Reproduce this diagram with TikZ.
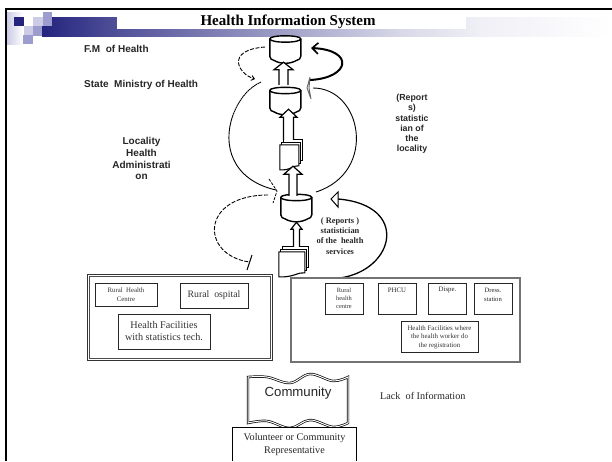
\documentclass[tikz,border=0pt]{standalone}
\usepackage{fontspec}
\setmainfont{Liberation Serif}
\setsansfont{Liberation Sans}
\usetikzlibrary{arrows.meta,positioning,shadings,calc}
\definecolor{hdark}{HTML}{24247F}
\definecolor{hmid}{HTML}{9C9CCE}
\definecolor{hlight}{HTML}{CCCCE6}
\tikzset{
  px/.style={line width=1.4pt,draw=black},
  cylfill/.style={px,fill=white},
  sheet/.style={line width=.9pt,draw=black,fill=white},
  sanslab/.style={font=\sffamily\bfseries\fontsize{10}{11.9}\selectfont,align=center,inner sep=0pt,text=black!85},
  sanssmall/.style={font=\sffamily\bfseries\fontsize{8.8}{10.2}\selectfont,align=center,inner sep=0pt,text=black!85},
  seriflab/.style={font=\bfseries\fontsize{8.4}{10.2}\selectfont,align=center,inner sep=0pt,text=black!85},
  thinbox/.style={draw=black!85,line width=.9pt,fill=white,align=center,inner sep=0pt,text=black!80},
  txt/.style={align=center,inner sep=0pt,text=black!85},
  solidcurve/.style={line width=.9pt,draw=black},
  dashcurve/.style={line width=.9pt,draw=black,dash pattern=on 4pt off 1.6pt},
  blockline/.style={line width=1.2pt,draw=black,fill=white,line join=miter},
}
\newcommand{\cylshape}[3]{% name, centre x, centre y
  \node[minimum width=31pt,minimum height=30pt,inner sep=0pt] (#1) at (#2,#3) {};
  \begin{scope}[shift={(#1.north west)}]
    \draw[cylfill] (0,5.5) .. controls (0,1.5) and (31,1.5) .. (31,5.5)
      -- (31,23) .. controls (31,26) and (29,26) .. (27,27)
      .. controls (20,31) and (11,31) .. (4,27)
      .. controls (2,26) and (0,26) .. (0,23) -- cycle;
    \draw[px] (0,5.5) .. controls (0,10) and (31,10) .. (31,5.5);
  \end{scope}
}
\newcommand{\docstack}[5]{% name, x1, y1, w, h
  \node[minimum width=#4 pt,minimum height=#5 pt,inner sep=0pt] (#1) at ({#2+#4/2},{#3+#5/2}) {};
  \begin{scope}[shift={(#1.north west)}]
    \draw[sheet] (4,-5) -- ({#4+4},-5) -- ({#4+4},{#5-9}) -- (4,{#5-9}) -- cycle;
    \draw[sheet] (2,-2.5) -- ({#4+2},-2.5) -- ({#4+2},{#5-6}) -- (2,{#5-6}) -- cycle;
    \draw[sheet,line width=1.1pt] (0,0) -- (#4,0) -- (#4,{#5-4})
      .. controls ({#4*.75},{#5-5}) and ({#4*.55},{#5+1}) .. (0,{#5}) -- cycle;
  \end{scope}
}
% hollow upward block arrow: from, to, half shaft, half head, head length
\newcommand{\blockarrow}[5]{%
  \draw[blockline] let \p1=#1, \p2=#2 in
    (\x1-#3pt,\y1) -- (\x1-#3pt,\y2-#5pt) -- (\x1-#4pt,\y2-#5pt) -- (\x1,\y2)
    -- (\x1+#4pt,\y2-#5pt) -- (\x1+#3pt,\y2-#5pt) -- (\x1+#3pt,\y1);
}
\begin{document}
\begin{tikzpicture}[x=1pt,y=-1pt]
\useasboundingbox (0,0) rectangle (612,461);
% header decoration
\shade[left color=hdark,right color=hdark!80!white] (42,17) rectangle (117.3,36);
\shade[left color=hdark!80!white,right color=hdark!40!white] (117,17) rectangle (300.3,36);
\shade[left color=hdark!40!white,right color=hdark!18!white] (300,17) rectangle (400.3,36);
\shade[left color=hdark!18!white,right color=hdark!7!white] (400,17) rectangle (480.3,36);
\shade[left color=hdark!7!white,right color=white] (480,17) rectangle (612,36);
\fill[white] (117,17) rectangle (466,29);
\shade[left color=hlight,right color=white] (7,12) rectangle (23,44);
\fill[hmid] (43,12) rectangle (52,26);
\fill[hlight] (33,17) rectangle (43,26);
\fill[hdark] (14,17) rectangle (24,26);
\fill[hlight] (24,26) rectangle (33,35);
\fill[hmid] (33,26) rectangle (42,36);
\fill[hmid] (23,35) rectangle (33,44);
% frame
\draw[line width=2.4pt] (612,9.2) -- (6,9.2) -- (6,461);
\node[txt,font=\bfseries\fontsize{15}{17}\selectfont,text=black] (title) at (288,22) {Health Information System};
% labels
\node[sanslab,anchor=west] (fm) at (84,48.5) {F.M\ \ of Health};
\node[sanslab,anchor=west] (sm) at (84,84.5) {State\ \ Ministry of Health};
\node[sanslab] (loc) at (141.5,158.5) {Locality\\Health\\Administrati\\on};
\node[sanssmall] (rep1) at (412,124) {(Report\\s)\\statistic\\ian of\\the\\locality};
\node[seriflab] (rep2) at (340,236) {( Reports )\\statistician\\of the\ \ health\\services};
% connectors' free ends
\coordinate (dtop) at (265,47);
\coordinate (dtopend) at (255,79);
\coordinate (tickA) at (261,82);
\coordinate (midtip) at (276,190);
\coordinate (dlowstart) at (268,195);
\coordinate (tbar) at (249.5,262);
\coordinate (thinstart) at (316,192);
\coordinate (thinend) at (313,88);
\coordinate (thickstart) at (310,80);
\coordinate (thickend) at (311,48);
\coordinate (lowstart) at (340,278);
\coordinate (lowend) at (338,199);
% cylinders & documents
\docstack{doctwo}{280}{145}{19}{25}
\docstack{docone}{279}{252}{26}{25}
\cylshape{cyla}{285.5}{48.5}
\cylshape{cylb}{285.5}{100}
\cylshape{cylc}{296.5}{207}
% block arrows
\blockarrow{([xshift=-2pt,yshift=0pt]cylb.north)}{([yshift=1.5pt]cyla.south)}{4.5}{9.5}{7.5}
\blockarrow{([xshift=-1pt,yshift=5pt]doctwo.north)}{([yshift=6pt]cylb.south)}{5}{8.5}{8}
\blockarrow{([xshift=-3.5pt,yshift=-4pt]cylc.north)}{([yshift=4pt]doctwo.south)}{4}{9}{8}
\blockarrow{([xshift=4.5pt,yshift=5pt]docone.north)}{(cylc.south)}{3}{5.5}{7}
% curves
\draw[line width=2pt,-{Straight Barb[length=6pt,width=11pt,line width=1.6pt]}] (thickstart)
  .. controls (350,78) and (355,50) .. (thickend);
\draw[solidcurve] (thinstart) .. controls (378,172) and (362,88) .. (thinend);
\draw[line width=.9pt,draw=black!60,fill=white] (310,77) -- (307,88) -- (311,99) -- (309,88) -- cycle;
\draw[dashcurve,-{Straight Barb[length=3pt,width=5pt]}] (dtop) .. controls (225,50) and (238,74) .. (dtopend);
\draw[solidcurve,dash pattern=on 1.6pt off .5pt] (tickA) .. controls (250,87) and (240,97) .. (233,115);
\draw[solidcurve] (233,115) .. controls (222,145) and (232,180) .. (midtip);
\draw[dashcurve,line width=.8pt,dash pattern=on 3pt off 1.2pt] (269,179) -- (277,191) -- (273,203);
\draw[dashcurve] (dlowstart) .. controls (200,195) and (200,255) .. (tbar);
\draw[line width=1pt] (252,255) -- (247,270);
\draw[line width=1.3pt] (lowstart) .. controls (395,270) and (410,205) .. (lowend);
\draw[line width=1pt,fill=white] (331,199) -- (338,192) -- (338,207) -- cycle;
% left box
\node[draw=black!80,line width=.9pt,minimum width=185pt,minimum height=86pt,inner sep=0pt] (lbox) at (179.5,317) {};
\node[draw=black!70,line width=.7pt,minimum width=181pt,minimum height=82pt,inner sep=0pt] (lboxin) at (179.5,317) {};
\node[thinbox,minimum width=62pt,minimum height=23pt,font=\fontsize{6.8}{8.6}\selectfont] (rhc) at (126,294.5) {Rural\ \ Health\\Centre};
\node[thinbox,minimum width=68pt,minimum height=25pt,font=\fontsize{9.8}{11}\selectfont] (ros) at (214,295.5) {Rural\ \ ospital};
\node[thinbox,minimum width=92pt,minimum height=35pt,font=\fontsize{10.2}{12}\selectfont] (hf1) at (164,331.5) {Health Facilities\\with statistics tech.};
% right box
\node[draw=black!55,line width=2pt,minimum width=229pt,minimum height=84pt,inner sep=0pt] (rbox) at (405,320) {};
\node[thinbox,minimum width=38pt,minimum height=31pt,font=\fontsize{6.4}{8.3}\selectfont] (b1) at (344,298.5) {Rural\\health\\centre};
\node[thinbox,minimum width=38pt,minimum height=31pt] (b2) at (397,298.5) {};
\node[txt,font=\fontsize{6.8}{8}\selectfont] (b2t) at (397,290) {PHCU};
\node[thinbox,minimum width=38pt,minimum height=31pt] (b3) at (447.5,298.5) {};
\node[txt,font=\fontsize{6.8}{8}\selectfont] (b3t) at (447.5,290) {Dispe.};
\node[thinbox,minimum width=38pt,minimum height=31pt] (b4) at (493,298.5) {};
\node[txt,font=\fontsize{6.6}{8.3}\selectfont] (b4t) at (493,295) {Dress.\\station};
\node[thinbox,minimum width=77pt,minimum height=31pt,font=\fontsize{6.9}{8.5}\selectfont] (hf2) at (439.5,337) {Health Facilities where\\the health worker do\\the registration};
% community
\draw[line width=.7pt,double,double distance=1pt,fill=white]
  plot[smooth,tension=.6] coordinates {(248,377) (267,377) (290,383) (310,374) (333,381) (348,377)}
  -- plot[smooth,tension=.6] coordinates {(348,423) (333,427) (310,420) (290,428) (267,421) (248,423)} -- cycle;
\node[txt,font=\sffamily\fontsize{13.2}{15}\selectfont] (comm) at (298,393) {Community};
\node[txt,font=\fontsize{10.2}{12}\selectfont,anchor=west] (lack) at (380,395.5) {Lack\ \ of Information};
\node[inner sep=0pt,minimum width=123pt,minimum height=33pt,fill=white,txt,font=\fontsize{10.2}{13}\selectfont] (vol) at (294.5,444.5) {Volunteer or Community\\Representative};
\draw[line width=.9pt] (vol.south west) -- (vol.north west) -- (vol.north east) -- (vol.south east);
\end{tikzpicture}
\end{document}
